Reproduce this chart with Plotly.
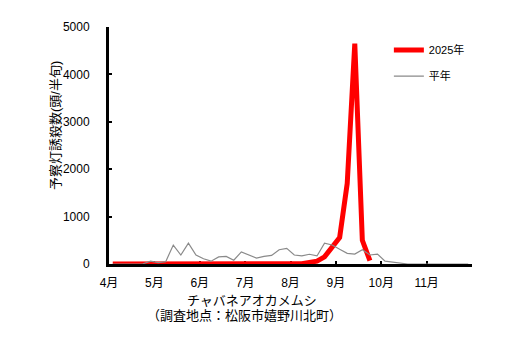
import numpy as np
import plotly.graph_objects as go

# Half-month (半旬) periods, 6 per month, April to November
months = ["4月", "5月", "6月", "7月", "8月", "9月", "10月", "11月"]
periods_per_month = 6

# Light-trap catches of the brown-winged green bug, 2025 (through mid-September)
catch_2025 = [0, 0, 0, 0, 0, 0, 0, 0, 0, 0, 0, 0,
              0, 0, 0, 0, 0, 0, 0, 0, 0, 0, 0, 0,
              0, 5, 35, 60, 150, 370, 560, 1700, 4650, 500, 70]

# Normal-year (平年) average catches
catch_normal = [0, 0, 0, 0, 5, 60, 30, 50, 400, 190, 440, 190,
                110, 60, 150, 160, 80, 255, 190, 125, 160, 180, 300, 330,
                190, 170, 205, 170, 440, 400, 310, 225, 210, 300, 190, 210,
                60, 40, 5, 0, 0, 0, 0, 0, 0, 0, 0, 0]

n_periods = len(months) * periods_per_month
x_2025 = np.arange(len(catch_2025)) + 0.5
x_normal = np.arange(len(catch_normal)) + 0.5

FONT = "Liberation Sans, Noto Sans CJK JP, sans-serif"

fig = go.Figure()
fig.add_trace(go.Scatter(
    x=x_2025, y=catch_2025, mode="lines", name="2025年",
    line=dict(color="#ff0000", width=5), legendgroup="a",
))
fig.add_trace(go.Scatter(
    x=x_normal, y=catch_normal, mode="lines", name="平年",
    line=dict(color="#8a8a8a", width=1.2), legendgroup="b",
))

tick_vals = list(range(0, n_periods + 1, periods_per_month))
tick_text = months + [""]

fig.update_layout(
    width=522, height=346,
    margin=dict(l=109, r=50, t=27, b=82),
    paper_bgcolor="white", plot_bgcolor="white",
    font=dict(family=FONT, size=12, color="black"),
    showlegend=True,
    legend=dict(
        x=0.771, y=0.964, xanchor="left", yanchor="top",
        bgcolor="rgba(0,0,0,0)", font=dict(size=11, family=FONT),
        tracegroupgap=7, itemwidth=30,
    ),
    xaxis=dict(
        range=[0, n_periods], tickmode="array",
        tickvals=tick_vals, ticktext=tick_text,
        showline=True, linecolor="black", linewidth=3,
        ticks="inside", ticklen=3, tickwidth=2, tickcolor="black",
        showgrid=False, zeroline=False, layer="below traces",
        ticklabelstandoff=6,
    ),
    yaxis=dict(
        range=[0, 5000], tickvals=[0, 1000, 2000, 3000, 4000, 5000],
        showline=True, linecolor="black", linewidth=3,
        ticks="inside", ticklen=3, tickwidth=2, tickcolor="black",
        showgrid=False, zeroline=False, layer="below traces",
        ticklabelstandoff=14,
    ),
    annotations=[
        dict(text="予察灯誘殺数(頭/半旬)", textangle=-90,
             xref="paper", yref="paper", x=-0.149, y=0.586,
             xanchor="center", yanchor="middle",
             showarrow=False, font=dict(size=13)),
        dict(text="チャバネアオカメムシ",
             xref="paper", yref="paper", x=0.395, y=-0.152,
             xanchor="center", yanchor="middle",
             showarrow=False, font=dict(size=13)),
        dict(text="（調査地点：松阪市嬉野川北町）",
             xref="paper", yref="paper", x=0.372, y=-0.219,
             xanchor="center", yanchor="middle",
             showarrow=False, font=dict(size=13)),
    ],
)

fig.write_html("out.html")
